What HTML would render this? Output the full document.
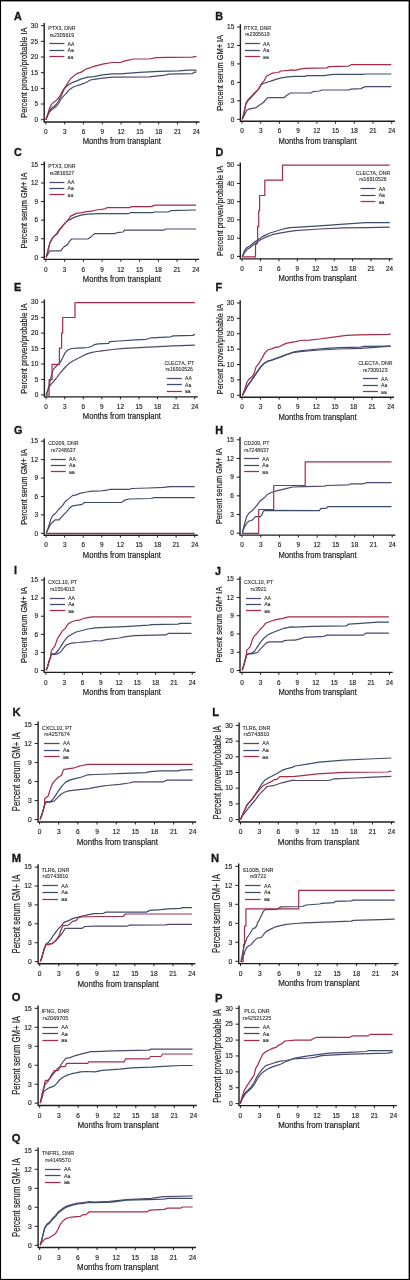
<!DOCTYPE html>
<html><head><meta charset="utf-8"><style>
html,body{margin:0;padding:0;background:#fff;}
body{width:410px;height:1280px;overflow:hidden;position:relative;}
svg{display:block;will-change:transform;}
#c{position:absolute;left:0;top:0;width:410px;height:1280px;filter:blur(0.3px);}
#b{position:absolute;left:0;top:0;width:410px;height:1280px;}
text{font-family:"Liberation Sans", sans-serif;fill:#1c1c1c;}
.tl{stroke:#1c1c1c;stroke-width:0.15px;}
.lt{stroke:#000;stroke-width:0.3px;}
.lb{stroke:#1c1c1c;stroke-width:0.2px;}
.lg{stroke:#1c1c1c;stroke-width:0.08px;}
.ax{stroke:#1e1e1e;stroke-width:1.4;fill:none;}
.tk{stroke:#1e1e1e;stroke-width:1.0;fill:none;}
.cv{fill:none;stroke-width:1.2;stroke-linejoin:round;}
</style></head><body>
<div id="c"><svg width="410" height="1280" viewBox="0 0 410 1280">
<text x="13.9" y="20" font-size="10.8" font-weight="bold" class="lt">A</text>
<path d="M44.2 22.9V122H199.5" class="ax"/>
<text x="38.1" y="121.9" font-size="6.5" text-anchor="end" class="tl">0</text>
<text x="38.1" y="106.23" font-size="6.5" text-anchor="end" class="tl">5</text>
<text x="38.1" y="90.57" font-size="6.5" text-anchor="end" class="tl">10</text>
<text x="38.1" y="74.9" font-size="6.5" text-anchor="end" class="tl">15</text>
<text x="38.1" y="59.23" font-size="6.5" text-anchor="end" class="tl">20</text>
<text x="38.1" y="43.57" font-size="6.5" text-anchor="end" class="tl">25</text>
<text x="38.1" y="27.9" font-size="6.5" text-anchor="end" class="tl">30</text>
<text x="45.9" y="134.1" font-size="6.4" text-anchor="middle" class="tl">0</text>
<text x="64.7" y="134.1" font-size="6.4" text-anchor="middle" class="tl">3</text>
<text x="83.5" y="134.1" font-size="6.4" text-anchor="middle" class="tl">6</text>
<text x="102.3" y="134.1" font-size="6.4" text-anchor="middle" class="tl">9</text>
<text x="121.1" y="134.1" font-size="6.4" text-anchor="middle" class="tl">12</text>
<text x="139.9" y="134.1" font-size="6.4" text-anchor="middle" class="tl">15</text>
<text x="158.7" y="134.1" font-size="6.4" text-anchor="middle" class="tl">18</text>
<text x="177.5" y="134.1" font-size="6.4" text-anchor="middle" class="tl">21</text>
<text x="196.3" y="134.1" font-size="6.4" text-anchor="middle" class="tl">24</text>
<path d="M40.9 119.7H44.2M40.9 104.03H44.2M40.9 88.37H44.2M40.9 72.7H44.2M40.9 57.03H44.2M40.9 41.37H44.2M40.9 25.7H44.2M45.9 122V124.4M64.7 122V124.4M83.5 122V124.4M102.3 122V124.4M121.1 122V124.4M139.9 122V124.4M158.7 122V124.4M177.5 122V124.4M196.3 122V124.4" class="tk"/>
<text x="160.9" y="144.4" font-size="9.2" text-anchor="end" textLength="78.2" lengthAdjust="spacingAndGlyphs" class="lb">Months from transplant</text>
<text transform="translate(26.65 72.7) rotate(-90)" font-size="9.9" text-anchor="middle" textLength="90.2" lengthAdjust="spacingAndGlyphs" class="lb">Percent proven/probable IA</text>
<text x="61.9" y="30.25" font-size="5.2" text-anchor="middle" class="lg">PTX3, DNR</text>
<text x="61.9" y="36.65" font-size="5.2" text-anchor="middle" class="lg">rs2305619</text>
<path d="M49.4 43.5H64.4" stroke="#53466e" stroke-width="1.25"/>
<text x="67.6" y="45.8" font-size="5.1" class="lg">AA</text>
<path d="M49.4 50.5H64.4" stroke="#3a4e6c" stroke-width="1.25"/>
<text x="67.6" y="52.25" font-size="5.1" class="lg">Aa</text>
<path d="M49.4 56.5H64.4" stroke="#a82a48" stroke-width="1.25"/>
<text x="67.6" y="58.7" font-size="5.1" class="lg">aa</text>
<path d="M45.9 119.8 L47.7 115.5 L49.5 112 L51.3 110 L53.8 108.3 L56.2 106.5 L58.6 103.5 L60.5 100 L62.3 97.4 L66 93.7 L69.6 89.4 L73.3 87 L76.9 85.8 L80.6 84.6 L84.2 83.3 L87.9 81.5 L90.3 80 L94 79.3 L102.5 78.1 L112.3 77.2 L120 77.2 L149.3 76.8 L164.9 75.2 L168.8 74.2 L192.2 73.7 L194.1 72.3 L196.5 71.9" stroke="#53466e" class="cv"/>
<path d="M45.9 119.8 L47.7 115 L49.5 110.8 L51.3 108.3 L53.8 106.5 L56.2 104.5 L58.6 101 L61.1 96 L63.5 90.5 L64.7 88.2 L67.2 85.8 L69.6 84 L73.3 82.1 L76.9 80.9 L80.6 79.1 L84.2 78.2 L87.9 77.2 L94 76.6 L102.5 74.8 L112.3 73.9 L120 73.9 L139.5 72.3 L159 71.3 L178.5 70.9 L188.3 70.1 L196.5 70.1" stroke="#3a4e6c" class="cv"/>
<path d="M45.9 119.8 L47.7 114.4 L49.5 108.3 L51.3 104.7 L53.8 102.2 L56.2 100.4 L58.6 98 L61.1 93.7 L63.5 89.4 L66 85.8 L68.4 82.1 L70.8 78.5 L74.5 75.4 L76.9 73.6 L80.6 72.4 L83 71.1 L85.5 69.3 L89.1 68.1 L94 66.3 L102.5 64.1 L112.3 62.5 L120 62.5 L125.9 60.6 L133.7 59 L149.3 59 L156.1 57.7 L168.8 57.3 L192.2 57.1 L196.5 56.3" stroke="#a82a48" class="cv"/>
<text x="215.2" y="20" font-size="10.8" font-weight="bold" class="lt">B</text>
<path d="M240.4 24.2V121.3H394.9" class="ax"/>
<text x="234.3" y="121.5" font-size="6.5" text-anchor="end" class="tl">0</text>
<text x="234.3" y="103.04" font-size="6.5" text-anchor="end" class="tl">3</text>
<text x="234.3" y="84.58" font-size="6.5" text-anchor="end" class="tl">6</text>
<text x="234.3" y="66.12" font-size="6.5" text-anchor="end" class="tl">9</text>
<text x="234.3" y="47.66" font-size="6.5" text-anchor="end" class="tl">12</text>
<text x="234.3" y="29.2" font-size="6.5" text-anchor="end" class="tl">15</text>
<text x="242" y="133.4" font-size="6.4" text-anchor="middle" class="tl">0</text>
<text x="260.71" y="133.4" font-size="6.4" text-anchor="middle" class="tl">3</text>
<text x="279.43" y="133.4" font-size="6.4" text-anchor="middle" class="tl">6</text>
<text x="298.14" y="133.4" font-size="6.4" text-anchor="middle" class="tl">9</text>
<text x="316.85" y="133.4" font-size="6.4" text-anchor="middle" class="tl">12</text>
<text x="335.56" y="133.4" font-size="6.4" text-anchor="middle" class="tl">15</text>
<text x="354.27" y="133.4" font-size="6.4" text-anchor="middle" class="tl">18</text>
<text x="372.99" y="133.4" font-size="6.4" text-anchor="middle" class="tl">21</text>
<text x="391.7" y="133.4" font-size="6.4" text-anchor="middle" class="tl">24</text>
<path d="M237.1 119.3H240.4M237.1 100.84H240.4M237.1 82.38H240.4M237.1 63.92H240.4M237.1 45.46H240.4M237.1 27H240.4M242 121.3V123.7M260.71 121.3V123.7M279.43 121.3V123.7M298.14 121.3V123.7M316.85 121.3V123.7M335.56 121.3V123.7M354.27 121.3V123.7M372.99 121.3V123.7M391.7 121.3V123.7" class="tk"/>
<text x="356.6" y="143.7" font-size="9.2" text-anchor="end" textLength="78.2" lengthAdjust="spacingAndGlyphs" class="lb">Months from transplant</text>
<text transform="translate(222.85 72.85) rotate(-90)" font-size="9.9" text-anchor="middle" textLength="75.8" lengthAdjust="spacingAndGlyphs" class="lb">Percent serum GM+ IA</text>
<text x="257.4" y="30.05" font-size="5.2" text-anchor="middle" class="lg">PTX3, DNR</text>
<text x="257.4" y="36.45" font-size="5.2" text-anchor="middle" class="lg">rs2305619</text>
<path d="M244.9 43.5H259.9" stroke="#53466e" stroke-width="1.25"/>
<text x="263.1" y="45.6" font-size="5.1" class="lg">AA</text>
<path d="M244.9 50.5H259.9" stroke="#3a4e6c" stroke-width="1.25"/>
<text x="263.1" y="52.05" font-size="5.1" class="lg">Aa</text>
<path d="M244.9 56.5H259.9" stroke="#a82a48" stroke-width="1.25"/>
<text x="263.1" y="58.5" font-size="5.1" class="lg">aa</text>
<path d="M242.2 119.3 L243.7 116.4 L246.6 110.6 L248.8 109.1 L252.4 108.4 L256.1 107.6 L259 105.4 L263.4 102.5 L267.1 98.1 L269.3 97.7 L283.9 97.7 L286.9 95.2 L290.5 93 L310.9 93 L313.3 91.5 L319.4 91 L321.8 90 L348.7 89.8 L351.1 89.1 L360.9 88.6 L363.3 87.4 L365.7 86.6 L391.3 86.6" stroke="#53466e" class="cv"/>
<path d="M242.2 119.3 L243.7 115 L245.9 104.5 L248.1 100.5 L251 97.5 L254.6 93.5 L258.3 89.6 L261.2 84.6 L263.4 83.5 L267.8 82 L272.2 80.6 L276.6 79.1 L282.5 77.6 L288.3 76.9 L295 76.4 L304.8 76.4 L307.2 75.7 L324.3 75.7 L329.1 74.9 L334 74.4 L363.3 74.4 L365.7 74 L391.3 74" stroke="#3a4e6c" class="cv"/>
<path d="M242.2 119.3 L243.7 113.5 L245.9 103.2 L248.1 99.6 L251 96.7 L254.6 93 L258.3 89.3 L261.2 84.2 L264.2 80.6 L266.4 76.2 L269.3 74.7 L272.2 73.2 L278.1 72.5 L281 71 L288.3 70.3 L291.2 69.9 L295 70.3 L299.9 69.1 L304.8 68.3 L326.7 67.9 L329.1 66.6 L348.7 66.1 L351.1 64.7 L391.3 64.7" stroke="#a82a48" class="cv"/>
<text x="13.9" y="155.5" font-size="10.8" font-weight="bold" class="lt">C</text>
<path d="M44.3 161.6V259.4H199" class="ax"/>
<text x="38.2" y="259.5" font-size="6.5" text-anchor="end" class="tl">0</text>
<text x="38.2" y="240.92" font-size="6.5" text-anchor="end" class="tl">3</text>
<text x="38.2" y="222.34" font-size="6.5" text-anchor="end" class="tl">6</text>
<text x="38.2" y="203.76" font-size="6.5" text-anchor="end" class="tl">9</text>
<text x="38.2" y="185.18" font-size="6.5" text-anchor="end" class="tl">12</text>
<text x="38.2" y="166.6" font-size="6.5" text-anchor="end" class="tl">15</text>
<text x="45.9" y="271.5" font-size="6.4" text-anchor="middle" class="tl">0</text>
<text x="64.64" y="271.5" font-size="6.4" text-anchor="middle" class="tl">3</text>
<text x="83.38" y="271.5" font-size="6.4" text-anchor="middle" class="tl">6</text>
<text x="102.11" y="271.5" font-size="6.4" text-anchor="middle" class="tl">9</text>
<text x="120.85" y="271.5" font-size="6.4" text-anchor="middle" class="tl">12</text>
<text x="139.59" y="271.5" font-size="6.4" text-anchor="middle" class="tl">15</text>
<text x="158.33" y="271.5" font-size="6.4" text-anchor="middle" class="tl">18</text>
<text x="177.06" y="271.5" font-size="6.4" text-anchor="middle" class="tl">21</text>
<text x="195.8" y="271.5" font-size="6.4" text-anchor="middle" class="tl">24</text>
<path d="M41 257.3H44.3M41 238.72H44.3M41 220.14H44.3M41 201.56H44.3M41 182.98H44.3M41 164.4H44.3M45.9 259.4V261.8M64.64 259.4V261.8M83.38 259.4V261.8M102.11 259.4V261.8M120.85 259.4V261.8M139.59 259.4V261.8M158.33 259.4V261.8M177.06 259.4V261.8M195.8 259.4V261.8" class="tk"/>
<text x="161" y="281.8" font-size="9.2" text-anchor="end" textLength="78.2" lengthAdjust="spacingAndGlyphs" class="lb">Months from transplant</text>
<text transform="translate(26.75 210.55) rotate(-90)" font-size="9.9" text-anchor="middle" textLength="75.8" lengthAdjust="spacingAndGlyphs" class="lb">Percent serum GM+ IA</text>
<text x="61.9" y="168.35" font-size="5.2" text-anchor="middle" class="lg">PTX3, DNR</text>
<text x="61.9" y="174.75" font-size="5.2" text-anchor="middle" class="lg">rs3816527</text>
<path d="M49.4 182.5H64.4" stroke="#53466e" stroke-width="1.25"/>
<text x="67.6" y="183.9" font-size="5.1" class="lg">AA</text>
<path d="M49.4 188.5H64.4" stroke="#3a4e6c" stroke-width="1.25"/>
<text x="67.6" y="190.35" font-size="5.1" class="lg">Aa</text>
<path d="M49.4 194.5H64.4" stroke="#a82a48" stroke-width="1.25"/>
<text x="67.6" y="196.8" font-size="5.1" class="lg">aa</text>
<path d="M46.2 257.3 L47.7 254.4 L49.9 250.8 L60.8 250.8 L62.3 248.6 L64.5 246.4 L67.4 244.9 L69.6 241.2 L71.8 239 L87.9 239 L90.9 236.9 L94.5 233.6 L114.6 233.6 L117.1 232.7 L123.2 232 L124.4 230.2 L163.4 230.2 L165.9 229 L196 229" stroke="#53466e" class="cv"/>
<path d="M46.2 257.3 L47.7 251.5 L49.9 243.2 L52.1 238.8 L54.2 236.1 L57.2 232.9 L59.4 229.3 L62.3 226.1 L65.2 222.9 L68.2 220.5 L71.8 218.6 L74.7 217.1 L77.7 216.1 L82.1 214.9 L87.9 214.2 L98.2 213.7 L100 213.7 L128 213.7 L130.5 212.7 L152.4 212.7 L154.9 212 L168.3 212 L170.7 210.7 L196 210" stroke="#3a4e6c" class="cv"/>
<path d="M46.2 257.3 L47.7 251.5 L49.9 242.7 L52.1 238.3 L54.2 236.1 L57.2 233.9 L59.4 230.3 L62.3 226.6 L65.2 222.9 L68.2 220 L70.4 216.4 L73.3 214.9 L76.2 213.4 L82.1 212.7 L86.5 211.7 L92.3 211.2 L93.8 210.5 L100 209.5 L104.9 208.8 L107.3 207.6 L129.3 207.6 L131.7 206.6 L151.2 206.6 L154.9 205.1 L196 205.1" stroke="#a82a48" class="cv"/>
<text x="215.5" y="155.5" font-size="10.8" font-weight="bold" class="lt">D</text>
<path d="M240.3 162.4V258.9H392.7" class="ax"/>
<text x="234.2" y="258.6" font-size="6.5" text-anchor="end" class="tl">0</text>
<text x="234.2" y="240.36" font-size="6.5" text-anchor="end" class="tl">10</text>
<text x="234.2" y="222.12" font-size="6.5" text-anchor="end" class="tl">20</text>
<text x="234.2" y="203.88" font-size="6.5" text-anchor="end" class="tl">30</text>
<text x="234.2" y="185.64" font-size="6.5" text-anchor="end" class="tl">40</text>
<text x="234.2" y="167.4" font-size="6.5" text-anchor="end" class="tl">50</text>
<text x="242" y="271" font-size="6.4" text-anchor="middle" class="tl">0</text>
<text x="260.44" y="271" font-size="6.4" text-anchor="middle" class="tl">3</text>
<text x="278.88" y="271" font-size="6.4" text-anchor="middle" class="tl">6</text>
<text x="297.31" y="271" font-size="6.4" text-anchor="middle" class="tl">9</text>
<text x="315.75" y="271" font-size="6.4" text-anchor="middle" class="tl">12</text>
<text x="334.19" y="271" font-size="6.4" text-anchor="middle" class="tl">15</text>
<text x="352.62" y="271" font-size="6.4" text-anchor="middle" class="tl">18</text>
<text x="371.06" y="271" font-size="6.4" text-anchor="middle" class="tl">21</text>
<text x="389.5" y="271" font-size="6.4" text-anchor="middle" class="tl">24</text>
<path d="M237 256.4H240.3M237 238.16H240.3M237 219.92H240.3M237 201.68H240.3M237 183.44H240.3M237 165.2H240.3M242 258.9V261.3M260.44 258.9V261.3M278.88 258.9V261.3M297.31 258.9V261.3M315.75 258.9V261.3M334.19 258.9V261.3M352.62 258.9V261.3M371.06 258.9V261.3M389.5 258.9V261.3" class="tk"/>
<text x="356.6" y="281.3" font-size="9.2" text-anchor="end" textLength="78.2" lengthAdjust="spacingAndGlyphs" class="lb">Months from transplant</text>
<text transform="translate(222.75 210.8) rotate(-90)" font-size="9.9" text-anchor="middle" textLength="90.2" lengthAdjust="spacingAndGlyphs" class="lb">Percent proven/probable IA</text>
<text x="373" y="175.05" font-size="5.2" text-anchor="middle" class="lg">CLEC7A, DNR</text>
<text x="373" y="181.45" font-size="5.2" text-anchor="middle" class="lg">rs16910526</text>
<path d="M360.5 188.5H375.5" stroke="#53466e" stroke-width="1.25"/>
<text x="378.7" y="190.6" font-size="5.1" class="lg">AA</text>
<path d="M360.5 195.5H375.5" stroke="#3a4e6c" stroke-width="1.25"/>
<text x="378.7" y="197.05" font-size="5.1" class="lg">Aa</text>
<path d="M360.5 201.5H375.5" stroke="#a82a48" stroke-width="1.25"/>
<text x="378.7" y="203.5" font-size="5.1" class="lg">aa</text>
<path d="M242.2 256.9 L244.4 253 L247.3 249.3 L251.7 246.4 L256.1 242.7 L260.5 239.8 L266.4 236.9 L272.2 234.7 L279.5 233.2 L288.3 231.7 L295 230.7 L319.4 229 L343.8 227.8 L368.2 227.6 L389.7 227.1" stroke="#53466e" class="cv"/>
<path d="M242.2 256.9 L244.4 250.8 L246.6 247.8 L250.2 245.7 L254.6 242 L259 239.1 L263.4 236.1 L269.3 233.2 L276.6 231 L283.9 228.8 L289.8 227.6 L295 227.3 L319.4 225.9 L343.8 224.1 L365.7 222.7 L389.7 222.7" stroke="#3a4e6c" class="cv"/>
<path d="M242.2 256.9 L255.5 256.9 L255.5 245 L257.6 243 L257.6 226.6 L258.7 226.6 L258.7 210.8 L259.6 210.8 L259.6 195.5 L264.8 195.5 L264.8 180.2 L282.5 180.2 L282.5 165.1 L389.7 165.1" stroke="#a82a48" class="cv"/>
<text x="13.9" y="290.5" font-size="10.8" font-weight="bold" class="lt">E</text>
<path d="M44.4 299.4V396.9H197.9" class="ax"/>
<text x="38.3" y="397.1" font-size="6.5" text-anchor="end" class="tl">0</text>
<text x="38.3" y="381.65" font-size="6.5" text-anchor="end" class="tl">5</text>
<text x="38.3" y="366.2" font-size="6.5" text-anchor="end" class="tl">10</text>
<text x="38.3" y="350.75" font-size="6.5" text-anchor="end" class="tl">15</text>
<text x="38.3" y="335.3" font-size="6.5" text-anchor="end" class="tl">20</text>
<text x="38.3" y="319.85" font-size="6.5" text-anchor="end" class="tl">25</text>
<text x="38.3" y="304.4" font-size="6.5" text-anchor="end" class="tl">30</text>
<text x="46.1" y="409" font-size="6.4" text-anchor="middle" class="tl">0</text>
<text x="64.67" y="409" font-size="6.4" text-anchor="middle" class="tl">3</text>
<text x="83.25" y="409" font-size="6.4" text-anchor="middle" class="tl">6</text>
<text x="101.82" y="409" font-size="6.4" text-anchor="middle" class="tl">9</text>
<text x="120.4" y="409" font-size="6.4" text-anchor="middle" class="tl">12</text>
<text x="138.97" y="409" font-size="6.4" text-anchor="middle" class="tl">15</text>
<text x="157.55" y="409" font-size="6.4" text-anchor="middle" class="tl">18</text>
<text x="176.12" y="409" font-size="6.4" text-anchor="middle" class="tl">21</text>
<text x="194.7" y="409" font-size="6.4" text-anchor="middle" class="tl">24</text>
<path d="M41.1 394.9H44.4M41.1 379.45H44.4M41.1 364H44.4M41.1 348.55H44.4M41.1 333.1H44.4M41.1 317.65H44.4M41.1 302.2H44.4M46.1 396.9V399.3M64.67 396.9V399.3M83.25 396.9V399.3M101.82 396.9V399.3M120.4 396.9V399.3M138.97 396.9V399.3M157.55 396.9V399.3M176.12 396.9V399.3M194.7 396.9V399.3" class="tk"/>
<text x="161" y="419.3" font-size="9.2" text-anchor="end" textLength="78.2" lengthAdjust="spacingAndGlyphs" class="lb">Months from transplant</text>
<text transform="translate(26.85 348.55) rotate(-90)" font-size="9.9" text-anchor="middle" textLength="90.2" lengthAdjust="spacingAndGlyphs" class="lb">Percent proven/probable IA</text>
<text x="179.3" y="364.85" font-size="5.2" text-anchor="middle" class="lg">CLEC7A, PT</text>
<text x="179.3" y="371.25" font-size="5.2" text-anchor="middle" class="lg">rs16910526</text>
<path d="M166.8 378.5H181.8" stroke="#53466e" stroke-width="1.25"/>
<text x="185" y="380.4" font-size="5.1" class="lg">AA</text>
<path d="M166.8 384.5H181.8" stroke="#3a4e6c" stroke-width="1.25"/>
<text x="185" y="386.85" font-size="5.1" class="lg">Aa</text>
<path d="M166.8 391.5H181.8" stroke="#a82a48" stroke-width="1.25"/>
<text x="185" y="393.3" font-size="5.1" class="lg">aa</text>
<path d="M46.2 395.1 L48.4 387.8 L51.3 384.1 L55.7 379 L60.1 373.1 L64.5 368 L68.9 363.6 L73.3 360.7 L77.7 358.5 L82.1 356.3 L86.5 354.1 L90.9 352.6 L96.7 351.5 L100 351.2 L112.2 349.5 L124.4 348.3 L148.8 347.1 L173.2 345.9 L194.9 345.1" stroke="#53466e" class="cv"/>
<path d="M46.2 395.1 L48.4 389.2 L50.6 379 L52.8 370.2 L55 367.3 L58.6 364.3 L60.8 361.4 L63 357 L65.2 352.6 L68.2 349.7 L71.8 348.5 L77.7 348.2 L83.5 347.8 L87.9 347.5 L92.3 346 L94.5 344.6 L98.2 343.9 L108.5 343.4 L109.8 341.7 L119.5 341 L135.4 339.8 L146.3 339.3 L151.2 337.8 L170.7 336.8 L173.2 335.9 L192.7 335.4 L194.9 334.4" stroke="#3a4e6c" class="cv"/>
<path d="M46.2 395.1 L49.1 395.1 L49.1 379.7 L52.1 379.7 L52.1 364.3 L59.4 364.3 L59.4 348.2 L61.6 348.2 L61.6 332.9 L62.7 332.9 L62.7 317.5 L75 317.5 L75 302.6 L194.9 302.6" stroke="#a82a48" class="cv"/>
<text x="215.5" y="290.5" font-size="10.8" font-weight="bold" class="lt">F</text>
<path d="M240.2 300.2V397.2H393.9" class="ax"/>
<text x="234.1" y="397.5" font-size="6.5" text-anchor="end" class="tl">0</text>
<text x="234.1" y="382.12" font-size="6.5" text-anchor="end" class="tl">5</text>
<text x="234.1" y="366.73" font-size="6.5" text-anchor="end" class="tl">10</text>
<text x="234.1" y="351.35" font-size="6.5" text-anchor="end" class="tl">15</text>
<text x="234.1" y="335.97" font-size="6.5" text-anchor="end" class="tl">20</text>
<text x="234.1" y="320.58" font-size="6.5" text-anchor="end" class="tl">25</text>
<text x="234.1" y="305.2" font-size="6.5" text-anchor="end" class="tl">30</text>
<text x="242" y="409.3" font-size="6.4" text-anchor="middle" class="tl">0</text>
<text x="260.59" y="409.3" font-size="6.4" text-anchor="middle" class="tl">3</text>
<text x="279.18" y="409.3" font-size="6.4" text-anchor="middle" class="tl">6</text>
<text x="297.76" y="409.3" font-size="6.4" text-anchor="middle" class="tl">9</text>
<text x="316.35" y="409.3" font-size="6.4" text-anchor="middle" class="tl">12</text>
<text x="334.94" y="409.3" font-size="6.4" text-anchor="middle" class="tl">15</text>
<text x="353.52" y="409.3" font-size="6.4" text-anchor="middle" class="tl">18</text>
<text x="372.11" y="409.3" font-size="6.4" text-anchor="middle" class="tl">21</text>
<text x="390.7" y="409.3" font-size="6.4" text-anchor="middle" class="tl">24</text>
<path d="M236.9 395.3H240.2M236.9 379.92H240.2M236.9 364.53H240.2M236.9 349.15H240.2M236.9 333.77H240.2M236.9 318.38H240.2M236.9 303H240.2M242 397.2V399.6M260.59 397.2V399.6M279.18 397.2V399.6M297.76 397.2V399.6M316.35 397.2V399.6M334.94 397.2V399.6M353.52 397.2V399.6M372.11 397.2V399.6M390.7 397.2V399.6" class="tk"/>
<text x="356.6" y="419.6" font-size="9.2" text-anchor="end" textLength="78.2" lengthAdjust="spacingAndGlyphs" class="lb">Months from transplant</text>
<text transform="translate(222.65 349.15) rotate(-90)" font-size="9.9" text-anchor="middle" textLength="90.2" lengthAdjust="spacingAndGlyphs" class="lb">Percent proven/probable IA</text>
<text x="375.4" y="365.15" font-size="5.2" text-anchor="middle" class="lg">CLEC7A, DNR</text>
<text x="375.4" y="371.55" font-size="5.2" text-anchor="middle" class="lg">rs7309123</text>
<path d="M362.9 378.5H377.9" stroke="#53466e" stroke-width="1.25"/>
<text x="381.1" y="380.7" font-size="5.1" class="lg">AA</text>
<path d="M362.9 385.5H377.9" stroke="#3a4e6c" stroke-width="1.25"/>
<text x="381.1" y="387.15" font-size="5.1" class="lg">Aa</text>
<path d="M362.9 391.5H377.9" stroke="#a82a48" stroke-width="1.25"/>
<text x="381.1" y="393.6" font-size="5.1" class="lg">aa</text>
<path d="M242.2 395.4 L244.4 391.9 L247.3 386.3 L251 381.2 L254.6 376 L257.6 371.6 L260.5 367.3 L264.2 363.6 L267.8 361.4 L272.2 360.2 L276.6 358.5 L281 357 L285.4 355.2 L289.8 353.8 L294.2 352.3 L300 351.6 L319.4 350 L338.9 349 L360.9 348.3 L377.9 347.1 L390.7 346.1" stroke="#53466e" class="cv"/>
<path d="M242.2 395.4 L244.4 391.7 L247.3 385.9 L251 380.8 L254.6 375.6 L257.6 371.2 L260.5 366.9 L264.2 363.2 L267.8 361 L272.2 359.8 L276.6 358.1 L281 356.6 L285.4 354.8 L289.8 353.4 L294.2 351.9 L300 350.8 L307.2 350 L326.7 348.3 L338.9 347.6 L360.9 347.1 L363.3 346.3 L390.7 346.1" stroke="#3a4e6c" class="cv"/>
<path d="M242.2 395.4 L244.4 390.3 L246.6 383 L248.8 379.3 L251.7 377.1 L253.9 374.2 L256.1 366.9 L259 363.2 L262 358.1 L264.9 352.9 L267.8 350 L272.2 348.6 L275.9 347.1 L278.8 347.1 L282.5 344.9 L286.9 343.1 L291.2 342.3 L295.6 341.7 L300 340.5 L309.6 340.2 L319.4 339 L331.6 337.3 L346.2 335.4 L358.4 334.9 L387.7 334.4 L390.7 333.9" stroke="#a82a48" class="cv"/>
<text x="13.9" y="433.5" font-size="10.8" font-weight="bold" class="lt">G</text>
<path d="M44.2 438.4V535.2H197.9" class="ax"/>
<text x="38.1" y="535.5" font-size="6.5" text-anchor="end" class="tl">0</text>
<text x="38.1" y="517.08" font-size="6.5" text-anchor="end" class="tl">3</text>
<text x="38.1" y="498.66" font-size="6.5" text-anchor="end" class="tl">6</text>
<text x="38.1" y="480.24" font-size="6.5" text-anchor="end" class="tl">9</text>
<text x="38.1" y="461.82" font-size="6.5" text-anchor="end" class="tl">12</text>
<text x="38.1" y="443.4" font-size="6.5" text-anchor="end" class="tl">15</text>
<text x="46.1" y="547.3" font-size="6.4" text-anchor="middle" class="tl">0</text>
<text x="64.67" y="547.3" font-size="6.4" text-anchor="middle" class="tl">3</text>
<text x="83.25" y="547.3" font-size="6.4" text-anchor="middle" class="tl">6</text>
<text x="101.82" y="547.3" font-size="6.4" text-anchor="middle" class="tl">9</text>
<text x="120.4" y="547.3" font-size="6.4" text-anchor="middle" class="tl">12</text>
<text x="138.97" y="547.3" font-size="6.4" text-anchor="middle" class="tl">15</text>
<text x="157.55" y="547.3" font-size="6.4" text-anchor="middle" class="tl">18</text>
<text x="176.12" y="547.3" font-size="6.4" text-anchor="middle" class="tl">21</text>
<text x="194.7" y="547.3" font-size="6.4" text-anchor="middle" class="tl">24</text>
<path d="M40.9 533.3H44.2M40.9 514.88H44.2M40.9 496.46H44.2M40.9 478.04H44.2M40.9 459.62H44.2M40.9 441.2H44.2M46.1 535.2V537.6M64.67 535.2V537.6M83.25 535.2V537.6M101.82 535.2V537.6M120.4 535.2V537.6M138.97 535.2V537.6M157.55 535.2V537.6M176.12 535.2V537.6M194.7 535.2V537.6" class="tk"/>
<text x="161" y="557.6" font-size="9.2" text-anchor="end" textLength="78.2" lengthAdjust="spacingAndGlyphs" class="lb">Months from transplant</text>
<text transform="translate(26.65 486.95) rotate(-90)" font-size="9.9" text-anchor="middle" textLength="75.8" lengthAdjust="spacingAndGlyphs" class="lb">Percent serum GM+ IA</text>
<text x="63.3" y="445.35" font-size="5.2" text-anchor="middle" class="lg">CD209, DNR</text>
<text x="63.3" y="451.75" font-size="5.2" text-anchor="middle" class="lg">rs7248637</text>
<path d="M50.8 459.5H65.8" stroke="#53466e" stroke-width="1.25"/>
<text x="69" y="460.9" font-size="5.1" class="lg">AA</text>
<path d="M50.8 465.5H65.8" stroke="#3a4e6c" stroke-width="1.25"/>
<text x="69" y="467.35" font-size="5.1" class="lg">Aa</text>
<path d="M50.8 471.5H65.8" stroke="#a82a48" stroke-width="1.25"/>
<text x="69" y="473.8" font-size="5.1" class="lg">aa</text>
<path d="M46.2 533.3 L48.4 527.1 L50.6 519.8 L52.8 515.4 L55.7 513.2 L58.6 509.5 L62.3 505.9 L65.2 501.5 L68.9 498.6 L72.5 495.6 L76.2 494.9 L79.9 493.4 L86.5 492 L92.3 491.2 L100 491 L107.3 490.2 L109.8 489.3 L129.3 489.3 L131.7 488.5 L148.8 488 L163.4 487.3 L170.7 486.6 L194.7 486.6" stroke="#53466e" class="cv"/>
<path d="M46.2 533.3 L48.4 528.6 L50.6 524.2 L52.8 522 L55 519.8 L59.4 519.8 L60.8 517.6 L63.8 514.7 L66.7 511.7 L69.6 508.1 L72.5 505.9 L77.7 505.1 L82.1 504.4 L84.3 502.5 L122 502.4 L124.4 500.2 L129.3 499 L151.2 498.5 L153.7 497.6 L194.7 497.6" stroke="#3a4e6c" class="cv"/>
<path d="M46.2 533.4 L194.7 533.4" stroke="#a82a48" class="cv"/>
<text x="215.2" y="433.5" font-size="10.8" font-weight="bold" class="lt">H</text>
<path d="M240 437V535.1H395.4" class="ax"/>
<text x="233.9" y="535.4" font-size="6.5" text-anchor="end" class="tl">0</text>
<text x="233.9" y="516.72" font-size="6.5" text-anchor="end" class="tl">3</text>
<text x="233.9" y="498.04" font-size="6.5" text-anchor="end" class="tl">6</text>
<text x="233.9" y="479.36" font-size="6.5" text-anchor="end" class="tl">9</text>
<text x="233.9" y="460.68" font-size="6.5" text-anchor="end" class="tl">12</text>
<text x="233.9" y="442" font-size="6.5" text-anchor="end" class="tl">15</text>
<text x="242" y="547.2" font-size="6.4" text-anchor="middle" class="tl">0</text>
<text x="260.77" y="547.2" font-size="6.4" text-anchor="middle" class="tl">3</text>
<text x="279.55" y="547.2" font-size="6.4" text-anchor="middle" class="tl">6</text>
<text x="298.32" y="547.2" font-size="6.4" text-anchor="middle" class="tl">9</text>
<text x="317.1" y="547.2" font-size="6.4" text-anchor="middle" class="tl">12</text>
<text x="335.88" y="547.2" font-size="6.4" text-anchor="middle" class="tl">15</text>
<text x="354.65" y="547.2" font-size="6.4" text-anchor="middle" class="tl">18</text>
<text x="373.42" y="547.2" font-size="6.4" text-anchor="middle" class="tl">21</text>
<text x="392.2" y="547.2" font-size="6.4" text-anchor="middle" class="tl">24</text>
<path d="M236.7 533.2H240M236.7 514.52H240M236.7 495.84H240M236.7 477.16H240M236.7 458.48H240M236.7 439.8H240M242 535.1V537.5M260.77 535.1V537.5M279.55 535.1V537.5M298.32 535.1V537.5M317.1 535.1V537.5M335.88 535.1V537.5M354.65 535.1V537.5M373.42 535.1V537.5M392.2 535.1V537.5" class="tk"/>
<text x="356.6" y="557.5" font-size="9.2" text-anchor="end" textLength="78.2" lengthAdjust="spacingAndGlyphs" class="lb">Months from transplant</text>
<text transform="translate(222.45 486.2) rotate(-90)" font-size="9.9" text-anchor="middle" textLength="75.8" lengthAdjust="spacingAndGlyphs" class="lb">Percent serum GM+ IA</text>
<text x="256.6" y="445.15" font-size="5.2" text-anchor="middle" class="lg">CD209, PT</text>
<text x="256.6" y="451.55" font-size="5.2" text-anchor="middle" class="lg">rs7248637</text>
<path d="M244.1 458.5H259.1" stroke="#53466e" stroke-width="1.25"/>
<text x="262.3" y="460.7" font-size="5.1" class="lg">AA</text>
<path d="M244.1 465.5H259.1" stroke="#3a4e6c" stroke-width="1.25"/>
<text x="262.3" y="467.15" font-size="5.1" class="lg">Aa</text>
<path d="M244.1 471.5H259.1" stroke="#a82a48" stroke-width="1.25"/>
<text x="262.3" y="473.6" font-size="5.1" class="lg">aa</text>
<path d="M242.2 533.3 L244.4 524.2 L246.6 516.9 L248.8 513.2 L251.7 511 L254.6 508.1 L257.6 504.4 L260.5 500.7 L264.2 497.8 L267.8 494.2 L270.7 492.7 L275.1 491.2 L281 489.8 L286.9 488.3 L292.7 487 L304.8 486.7 L324.3 486.2 L326.7 485.5 L348.7 484.8 L351.1 483.8 L363.3 483.8 L367 482.6 L391.5 482.6" stroke="#53466e" class="cv"/>
<path d="M242.2 533.3 L244.4 527.1 L246.6 523.4 L248.8 521.2 L251.7 520.5 L253.9 518.3 L255.4 516.6 L260.5 516.6 L262 514.7 L263.4 511 L264.9 510.4 L319.4 510.6 L320.6 508.7 L326.7 508.2 L327.9 506.7 L391.5 506.7" stroke="#3a4e6c" class="cv"/>
<path d="M242.2 533.3 L258.7 533.3 L258.7 509.5 L273.7 509.5 L273.7 485.5 L305.2 485.5 L305.2 461.8 L391.5 461.8" stroke="#a82a48" class="cv"/>
<text x="13.9" y="574.3" font-size="10.8" font-weight="bold" class="lt">I</text>
<path d="M44.2 577.2V672.4H195.4" class="ax"/>
<text x="38.1" y="672.8" font-size="6.5" text-anchor="end" class="tl">0</text>
<text x="38.1" y="654.68" font-size="6.5" text-anchor="end" class="tl">3</text>
<text x="38.1" y="636.56" font-size="6.5" text-anchor="end" class="tl">6</text>
<text x="38.1" y="618.44" font-size="6.5" text-anchor="end" class="tl">9</text>
<text x="38.1" y="600.32" font-size="6.5" text-anchor="end" class="tl">12</text>
<text x="38.1" y="582.2" font-size="6.5" text-anchor="end" class="tl">15</text>
<text x="45.9" y="684.5" font-size="6.4" text-anchor="middle" class="tl">0</text>
<text x="64.19" y="684.5" font-size="6.4" text-anchor="middle" class="tl">3</text>
<text x="82.47" y="684.5" font-size="6.4" text-anchor="middle" class="tl">6</text>
<text x="100.76" y="684.5" font-size="6.4" text-anchor="middle" class="tl">9</text>
<text x="119.05" y="684.5" font-size="6.4" text-anchor="middle" class="tl">12</text>
<text x="137.34" y="684.5" font-size="6.4" text-anchor="middle" class="tl">15</text>
<text x="155.62" y="684.5" font-size="6.4" text-anchor="middle" class="tl">18</text>
<text x="173.91" y="684.5" font-size="6.4" text-anchor="middle" class="tl">21</text>
<text x="192.2" y="684.5" font-size="6.4" text-anchor="middle" class="tl">24</text>
<path d="M40.9 670.6H44.2M40.9 652.48H44.2M40.9 634.36H44.2M40.9 616.24H44.2M40.9 598.12H44.2M40.9 580H44.2M45.9 672.4V674.8M64.19 672.4V674.8M82.47 672.4V674.8M100.76 672.4V674.8M119.05 672.4V674.8M137.34 672.4V674.8M155.62 672.4V674.8M173.91 672.4V674.8M192.2 672.4V674.8" class="tk"/>
<text x="161" y="694.8" font-size="9.2" text-anchor="end" textLength="78.2" lengthAdjust="spacingAndGlyphs" class="lb">Months from transplant</text>
<text transform="translate(26.65 625) rotate(-90)" font-size="9.9" text-anchor="middle" textLength="75.8" lengthAdjust="spacingAndGlyphs" class="lb">Percent serum GM+ IA</text>
<text x="62.5" y="584.35" font-size="5.2" text-anchor="middle" class="lg">CXCL10, PT</text>
<text x="62.5" y="590.75" font-size="5.2" text-anchor="middle" class="lg">rs1554013</text>
<path d="M50 598.5H65" stroke="#53466e" stroke-width="1.25"/>
<text x="68.2" y="599.9" font-size="5.1" class="lg">AA</text>
<path d="M50 604.5H65" stroke="#3a4e6c" stroke-width="1.25"/>
<text x="68.2" y="606.35" font-size="5.1" class="lg">Aa</text>
<path d="M50 610.5H65" stroke="#a82a48" stroke-width="1.25"/>
<text x="68.2" y="612.8" font-size="5.1" class="lg">aa</text>
<path d="M46.2 670.3 L47.7 666.4 L49.1 661.2 L50.6 656.9 L51.3 653.9 L54.2 654.7 L57.2 653.9 L60.1 652.5 L63 648.8 L66 645.1 L69.6 643.7 L73.3 642.9 L79.1 642.5 L85 641.9 L90.9 641.5 L94.5 640.5 L100 641 L107.3 639.3 L119.5 638 L124.4 636.8 L134.1 635.6 L165.9 634.9 L168.3 633.4 L191.5 633.4" stroke="#53466e" class="cv"/>
<path d="M46.2 670.3 L47.7 666.4 L49.1 661.2 L50.6 656.9 L51.3 653.9 L54.2 653.9 L56.4 652.5 L59.4 648.8 L61.6 645.1 L64.5 640.7 L68.2 636.4 L71.8 634.2 L76.2 632 L82.1 630.5 L87.9 629 L95.2 627.9 L100 627.6 L124.4 626.6 L148.8 625.1 L151.2 624.6 L178 624.1 L180.5 623.4 L191.5 623.4" stroke="#3a4e6c" class="cv"/>
<path d="M46.2 670.3 L47.7 666.4 L49.1 661.2 L50.6 656.9 L51.3 651 L52.8 648.8 L55 645.9 L57.2 639.3 L59.4 635.6 L62.3 631.2 L65.2 628.3 L68.2 623.9 L71.8 621.7 L75.5 620.5 L79.1 620.2 L83.5 618.5 L87.9 617.6 L92.3 616.8 L191.5 616.8" stroke="#a82a48" class="cv"/>
<text x="215" y="574.8" font-size="10.8" font-weight="bold" class="lt">J</text>
<path d="M240 576.4V672.4H392.7" class="ax"/>
<text x="233.9" y="672.7" font-size="6.5" text-anchor="end" class="tl">0</text>
<text x="233.9" y="654.44" font-size="6.5" text-anchor="end" class="tl">3</text>
<text x="233.9" y="636.18" font-size="6.5" text-anchor="end" class="tl">6</text>
<text x="233.9" y="617.92" font-size="6.5" text-anchor="end" class="tl">9</text>
<text x="233.9" y="599.66" font-size="6.5" text-anchor="end" class="tl">12</text>
<text x="233.9" y="581.4" font-size="6.5" text-anchor="end" class="tl">15</text>
<text x="242" y="684.5" font-size="6.4" text-anchor="middle" class="tl">0</text>
<text x="260.44" y="684.5" font-size="6.4" text-anchor="middle" class="tl">3</text>
<text x="278.88" y="684.5" font-size="6.4" text-anchor="middle" class="tl">6</text>
<text x="297.31" y="684.5" font-size="6.4" text-anchor="middle" class="tl">9</text>
<text x="315.75" y="684.5" font-size="6.4" text-anchor="middle" class="tl">12</text>
<text x="334.19" y="684.5" font-size="6.4" text-anchor="middle" class="tl">15</text>
<text x="352.62" y="684.5" font-size="6.4" text-anchor="middle" class="tl">18</text>
<text x="371.06" y="684.5" font-size="6.4" text-anchor="middle" class="tl">21</text>
<text x="389.5" y="684.5" font-size="6.4" text-anchor="middle" class="tl">24</text>
<path d="M236.7 670.5H240M236.7 652.24H240M236.7 633.98H240M236.7 615.72H240M236.7 597.46H240M236.7 579.2H240M242 672.4V674.8M260.44 672.4V674.8M278.88 672.4V674.8M297.31 672.4V674.8M315.75 672.4V674.8M334.19 672.4V674.8M352.62 672.4V674.8M371.06 672.4V674.8M389.5 672.4V674.8" class="tk"/>
<text x="356.6" y="694.8" font-size="9.2" text-anchor="end" textLength="78.2" lengthAdjust="spacingAndGlyphs" class="lb">Months from transplant</text>
<text transform="translate(222.45 624.55) rotate(-90)" font-size="9.9" text-anchor="middle" textLength="75.8" lengthAdjust="spacingAndGlyphs" class="lb">Percent serum GM+ IA</text>
<text x="258.5" y="584.35" font-size="5.2" text-anchor="middle" class="lg">CXCL10, PT</text>
<text x="258.5" y="590.75" font-size="5.2" text-anchor="middle" class="lg">rs3921</text>
<path d="M246 598.5H261" stroke="#53466e" stroke-width="1.25"/>
<text x="264.2" y="599.9" font-size="5.1" class="lg">AA</text>
<path d="M246 604.5H261" stroke="#3a4e6c" stroke-width="1.25"/>
<text x="264.2" y="606.35" font-size="5.1" class="lg">Aa</text>
<path d="M246 610.5H261" stroke="#a82a48" stroke-width="1.25"/>
<text x="264.2" y="612.8" font-size="5.1" class="lg">aa</text>
<path d="M242.2 670.3 L243.7 665.6 L245.1 660.5 L246.6 655 L248.1 653.9 L251.7 653.9 L254.6 653.2 L257.6 652.5 L260.5 648.8 L263.4 645.9 L266.4 642.9 L269.3 641.9 L282.5 641.9 L283.9 640.7 L291.2 640 L295 640.2 L299.9 638.8 L304.8 637.3 L324.3 636.3 L326.7 635.1 L363.3 635.1 L365.7 633.2 L388.9 633.2" stroke="#53466e" class="cv"/>
<path d="M242.2 670.3 L243.7 665.6 L245.1 660.5 L246.6 655 L248.1 653.9 L251.7 653.2 L254.6 651 L257.6 646.6 L260.5 642.2 L264.2 637.8 L267.8 634.9 L272.2 632.7 L278.1 630.5 L283.9 628.3 L291.2 626.8 L295 627.1 L312.1 626.3 L346.2 625.9 L348.7 624.1 L360.9 623.4 L377.9 622.2 L388.9 622.2" stroke="#3a4e6c" class="cv"/>
<path d="M242.2 670.3 L243.7 665.6 L245.1 660.5 L246.6 653.9 L246.6 650.3 L248.1 648.8 L250.2 646.6 L252.4 639.3 L254.6 635.6 L257.6 632.7 L260.5 629 L263.4 626.1 L265.6 623.2 L269.3 621.7 L273.7 620.2 L279.5 618.8 L283.9 618.1 L288.3 616.8 L388.9 616.8" stroke="#a82a48" class="cv"/>
<text x="12.4" y="716.2" font-size="11.23" font-weight="bold" class="lt">K</text>
<path d="M38.1 721.59V822H196.13" class="ax"/>
<text x="31.76" y="821.89" font-size="6.76" text-anchor="end" class="tl">0</text>
<text x="31.76" y="802.87" font-size="6.76" text-anchor="end" class="tl">3</text>
<text x="31.76" y="783.85" font-size="6.76" text-anchor="end" class="tl">6</text>
<text x="31.76" y="764.83" font-size="6.76" text-anchor="end" class="tl">9</text>
<text x="31.76" y="745.81" font-size="6.76" text-anchor="end" class="tl">12</text>
<text x="31.76" y="726.79" font-size="6.76" text-anchor="end" class="tl">15</text>
<text x="39.6" y="834.1" font-size="6.66" text-anchor="middle" class="tl">0</text>
<text x="58.75" y="834.1" font-size="6.66" text-anchor="middle" class="tl">3</text>
<text x="77.9" y="834.1" font-size="6.66" text-anchor="middle" class="tl">6</text>
<text x="97.05" y="834.1" font-size="6.66" text-anchor="middle" class="tl">9</text>
<text x="116.2" y="834.1" font-size="6.66" text-anchor="middle" class="tl">12</text>
<text x="135.35" y="834.1" font-size="6.66" text-anchor="middle" class="tl">15</text>
<text x="154.5" y="834.1" font-size="6.66" text-anchor="middle" class="tl">18</text>
<text x="173.65" y="834.1" font-size="6.66" text-anchor="middle" class="tl">21</text>
<text x="192.8" y="834.1" font-size="6.66" text-anchor="middle" class="tl">24</text>
<path d="M34.67 819.6H38.1M34.67 800.58H38.1M34.67 781.56H38.1M34.67 762.54H38.1M34.67 743.52H38.1M34.67 724.5H38.1M39.6 822V824.5M58.75 822V824.5M77.9 822V824.5M97.05 822V824.5M116.2 822V824.5M135.35 822V824.5M154.5 822V824.5M173.65 822V824.5M192.8 822V824.5" class="tk"/>
<text x="158" y="844.8" font-size="9.57" text-anchor="end" textLength="81.33" lengthAdjust="spacingAndGlyphs" class="lb">Months from transplant</text>
<text transform="translate(19.85 771.75) rotate(-90)" font-size="10.3" text-anchor="middle" textLength="78.83" lengthAdjust="spacingAndGlyphs" class="lb">Percent serum GM+ IA</text>
<text x="57" y="729.75" font-size="5.41" text-anchor="middle" class="lg">CXCL10, PT</text>
<text x="57" y="736.15" font-size="5.41" text-anchor="middle" class="lg">rs4257674</text>
<path d="M44 743.5H59.6" stroke="#53466e" stroke-width="1.25"/>
<text x="62.93" y="745.38" font-size="5.3" class="lg">AA</text>
<path d="M44 750.5H59.6" stroke="#3a4e6c" stroke-width="1.25"/>
<text x="62.93" y="752.08" font-size="5.3" class="lg">Aa</text>
<path d="M44 756.5H59.6" stroke="#a82a48" stroke-width="1.25"/>
<text x="62.93" y="758.79" font-size="5.3" class="lg">aa</text>
<path d="M40.2 819.4 L41.7 815 L43.1 810.6 L44.6 804.8 L46.1 801.9 L49.7 802.1 L54.1 801.1 L57 798.2 L60.7 794.5 L64.4 792.3 L68.7 790.9 L74.6 790.1 L81.9 789.4 L89.2 788.7 L92.2 787.9 L95 787.4 L102.3 786.2 L107.2 785.5 L119.4 784.3 L129.1 783 L134 781.8 L163.3 781.8 L167 780.1 L192.6 780.1" stroke="#53466e" class="cv"/>
<path d="M40.2 819.4 L41.7 815 L43.1 810.6 L44.6 804.8 L46.1 801.9 L49.7 801.9 L52.6 799.7 L55.6 795.3 L58.5 790.9 L62.2 785.7 L65.8 782.1 L70.2 779.9 L76.1 778.4 L81.9 777 L87.8 774.8 L95 774.5 L109.6 774 L124.3 773.3 L146.2 772.6 L149.9 771.6 L160.9 770.9 L177.9 770.9 L180.4 770.1 L192.6 769.6" stroke="#3a4e6c" class="cv"/>
<path d="M40.2 819.4 L41.7 815 L43.1 810.6 L44.6 804.8 L44.6 798.9 L46.1 797.5 L48.2 796 L50.4 788.7 L52.6 783.5 L55.6 779.9 L58.5 777 L61.4 775.5 L63.6 769.6 L67.3 768.9 L73.1 768.2 L77.5 766.7 L81.9 765.5 L87.8 764.3 L192.6 764.3" stroke="#a82a48" class="cv"/>
<text x="212.3" y="716.2" font-size="11.23" font-weight="bold" class="lt">L</text>
<path d="M239.1 722.49V822H394.73" class="ax"/>
<text x="232.76" y="821.89" font-size="6.76" text-anchor="end" class="tl">0</text>
<text x="232.76" y="806.19" font-size="6.76" text-anchor="end" class="tl">5</text>
<text x="232.76" y="790.49" font-size="6.76" text-anchor="end" class="tl">10</text>
<text x="232.76" y="774.79" font-size="6.76" text-anchor="end" class="tl">15</text>
<text x="232.76" y="759.09" font-size="6.76" text-anchor="end" class="tl">20</text>
<text x="232.76" y="743.39" font-size="6.76" text-anchor="end" class="tl">25</text>
<text x="232.76" y="727.69" font-size="6.76" text-anchor="end" class="tl">30</text>
<text x="240.5" y="834.1" font-size="6.66" text-anchor="middle" class="tl">0</text>
<text x="259.36" y="834.1" font-size="6.66" text-anchor="middle" class="tl">3</text>
<text x="278.23" y="834.1" font-size="6.66" text-anchor="middle" class="tl">6</text>
<text x="297.09" y="834.1" font-size="6.66" text-anchor="middle" class="tl">9</text>
<text x="315.95" y="834.1" font-size="6.66" text-anchor="middle" class="tl">12</text>
<text x="334.81" y="834.1" font-size="6.66" text-anchor="middle" class="tl">15</text>
<text x="353.67" y="834.1" font-size="6.66" text-anchor="middle" class="tl">18</text>
<text x="372.54" y="834.1" font-size="6.66" text-anchor="middle" class="tl">21</text>
<text x="391.4" y="834.1" font-size="6.66" text-anchor="middle" class="tl">24</text>
<path d="M235.67 819.6H239.1M235.67 803.9H239.1M235.67 788.2H239.1M235.67 772.5H239.1M235.67 756.8H239.1M235.67 741.1H239.1M235.67 725.4H239.1M240.5 822V824.5M259.36 822V824.5M278.23 822V824.5M297.09 822V824.5M315.95 822V824.5M334.81 822V824.5M353.67 822V824.5M372.54 822V824.5M391.4 822V824.5" class="tk"/>
<text x="359.1" y="844.8" font-size="9.57" text-anchor="end" textLength="81.33" lengthAdjust="spacingAndGlyphs" class="lb">Months from transplant</text>
<text transform="translate(220.85 772.5) rotate(-90)" font-size="10.3" text-anchor="middle" textLength="93.81" lengthAdjust="spacingAndGlyphs" class="lb">Percent proven/probable IA</text>
<text x="256.4" y="729.75" font-size="5.41" text-anchor="middle" class="lg">TLR6, DNR</text>
<text x="256.4" y="736.15" font-size="5.41" text-anchor="middle" class="lg">rs5743810</text>
<path d="M243.4 743.5H259" stroke="#53466e" stroke-width="1.25"/>
<text x="262.33" y="745.38" font-size="5.3" class="lg">AA</text>
<path d="M243.4 750.5H259" stroke="#3a4e6c" stroke-width="1.25"/>
<text x="262.33" y="752.08" font-size="5.3" class="lg">Aa</text>
<path d="M243.4 756.5H259" stroke="#a82a48" stroke-width="1.25"/>
<text x="262.33" y="758.79" font-size="5.3" class="lg">aa</text>
<path d="M240.6 819.4 L242.4 815.8 L245.3 812.1 L248.2 808.4 L251.9 804 L255.6 799.7 L258.5 795.3 L261.4 792.3 L264.4 789.4 L267.3 786.5 L273.1 785.7 L277.5 784.3 L281.9 782.8 L287.8 781.4 L293.6 780.2 L295 780.5 L329.1 780.5 L334 778.8 L356 778 L368.2 777.3 L391.3 776.3" stroke="#53466e" class="cv"/>
<path d="M240.6 819.4 L242.4 815 L244.6 809.9 L246.8 805.5 L249.7 801.9 L252.6 798.2 L255.6 793.8 L258.5 789.4 L261.4 784.3 L265.1 779.9 L268.7 777.7 L273.1 775.5 L277.5 773.3 L281.9 770.4 L286.3 768.9 L292.2 767.4 L295.1 766 L307.2 764.1 L319.4 762.2 L343.8 760.2 L368.2 759 L391.3 758" stroke="#3a4e6c" class="cv"/>
<path d="M240.6 819.4 L242.4 815 L244.6 810.6 L246.8 804.8 L249.7 801.9 L252.6 798.9 L255.6 794.5 L259.2 790.1 L262.9 785.7 L267.3 783.5 L271.7 781.4 L273.9 779.9 L277.5 779.2 L279.7 776.7 L286.3 776.7 L295 776.3 L302.3 775.6 L317 773.9 L343.8 772.4 L387.7 772 L391.3 771.2" stroke="#a82a48" class="cv"/>
<text x="11.7" y="861.6" font-size="11.23" font-weight="bold" class="lt">M</text>
<path d="M38.1 864.19V963.7H195.33" class="ax"/>
<text x="31.76" y="963.89" font-size="6.76" text-anchor="end" class="tl">0</text>
<text x="31.76" y="944.99" font-size="6.76" text-anchor="end" class="tl">3</text>
<text x="31.76" y="926.09" font-size="6.76" text-anchor="end" class="tl">6</text>
<text x="31.76" y="907.19" font-size="6.76" text-anchor="end" class="tl">9</text>
<text x="31.76" y="888.29" font-size="6.76" text-anchor="end" class="tl">12</text>
<text x="31.76" y="869.39" font-size="6.76" text-anchor="end" class="tl">15</text>
<text x="39.7" y="975.8" font-size="6.66" text-anchor="middle" class="tl">0</text>
<text x="58.74" y="975.8" font-size="6.66" text-anchor="middle" class="tl">3</text>
<text x="77.78" y="975.8" font-size="6.66" text-anchor="middle" class="tl">6</text>
<text x="96.81" y="975.8" font-size="6.66" text-anchor="middle" class="tl">9</text>
<text x="115.85" y="975.8" font-size="6.66" text-anchor="middle" class="tl">12</text>
<text x="134.89" y="975.8" font-size="6.66" text-anchor="middle" class="tl">15</text>
<text x="153.93" y="975.8" font-size="6.66" text-anchor="middle" class="tl">18</text>
<text x="172.96" y="975.8" font-size="6.66" text-anchor="middle" class="tl">21</text>
<text x="192" y="975.8" font-size="6.66" text-anchor="middle" class="tl">24</text>
<path d="M34.67 961.6H38.1M34.67 942.7H38.1M34.67 923.8H38.1M34.67 904.9H38.1M34.67 886H38.1M34.67 867.1H38.1M39.7 963.7V966.2M58.74 963.7V966.2M77.78 963.7V966.2M96.81 963.7V966.2M115.85 963.7V966.2M134.89 963.7V966.2M153.93 963.7V966.2M172.96 963.7V966.2M192 963.7V966.2" class="tk"/>
<text x="158.8" y="986.5" font-size="9.57" text-anchor="end" textLength="81.33" lengthAdjust="spacingAndGlyphs" class="lb">Months from transplant</text>
<text transform="translate(19.85 914.05) rotate(-90)" font-size="10.3" text-anchor="middle" textLength="78.83" lengthAdjust="spacingAndGlyphs" class="lb">Percent serum GM+ IA</text>
<text x="55.4" y="871.95" font-size="5.41" text-anchor="middle" class="lg">TLR6, DNR</text>
<text x="55.4" y="878.35" font-size="5.41" text-anchor="middle" class="lg">rs5743810</text>
<path d="M42.4 885.5H58" stroke="#53466e" stroke-width="1.25"/>
<text x="61.33" y="887.58" font-size="5.3" class="lg">AA</text>
<path d="M42.4 892.5H58" stroke="#3a4e6c" stroke-width="1.25"/>
<text x="61.33" y="894.28" font-size="5.3" class="lg">Aa</text>
<path d="M42.4 899.5H58" stroke="#a82a48" stroke-width="1.25"/>
<text x="61.33" y="900.99" font-size="5.3" class="lg">aa</text>
<path d="M40.2 961.6 L41.7 958 L43.1 952.8 L44.6 947.7 L46.1 944.3 L48.2 944 L52.6 943.3 L55.6 941.1 L58.5 937.5 L61.4 934.5 L65.1 928.4 L81.9 928.4 L84.9 926.5 L95 926.2 L126.7 926.2 L129.1 925.2 L165.7 924.8 L168.2 924.3 L192 924.3" stroke="#53466e" class="cv"/>
<path d="M40.2 961.6 L41.7 958 L43.1 952.8 L44.6 947.7 L46.1 944 L48.2 942.6 L51.2 938.9 L53.4 935.3 L55.6 932.3 L58.5 928.7 L61.4 925.7 L64.4 922.1 L68.7 920.6 L73.1 918.4 L77.5 917.3 L81.9 916.2 L87.8 914.8 L93.6 913.7 L103.5 913.3 L106 912.1 L146.2 912.1 L149.9 910.4 L160.9 909.6 L168.2 908.9 L180.4 908.4 L182.8 907.7 L192 907.7" stroke="#3a4e6c" class="cv"/>
<path d="M40.2 961.6 L41.7 958 L43.1 952.8 L44.6 947.7 L46.1 944.5 L48.2 944.8 L51.2 944 L54.1 941.9 L57 938.9 L59.2 935.3 L61.4 928.7 L62.9 925.7 L67.3 925.5 L69.5 924.3 L72.4 921.4 L76.1 920.6 L78.3 917.7 L81.9 917 L97.4 916.5 L123 916.5 L125.5 914 L192 914" stroke="#a82a48" class="cv"/>
<text x="211.1" y="861.6" font-size="11.23" font-weight="bold" class="lt">N</text>
<path d="M238.7 863.39V963.6H398.43" class="ax"/>
<text x="232.36" y="963.59" font-size="6.76" text-anchor="end" class="tl">0</text>
<text x="232.36" y="944.59" font-size="6.76" text-anchor="end" class="tl">3</text>
<text x="232.36" y="925.59" font-size="6.76" text-anchor="end" class="tl">6</text>
<text x="232.36" y="906.59" font-size="6.76" text-anchor="end" class="tl">9</text>
<text x="232.36" y="887.59" font-size="6.76" text-anchor="end" class="tl">12</text>
<text x="232.36" y="868.59" font-size="6.76" text-anchor="end" class="tl">15</text>
<text x="240.5" y="975.7" font-size="6.66" text-anchor="middle" class="tl">0</text>
<text x="259.82" y="975.7" font-size="6.66" text-anchor="middle" class="tl">3</text>
<text x="279.15" y="975.7" font-size="6.66" text-anchor="middle" class="tl">6</text>
<text x="298.48" y="975.7" font-size="6.66" text-anchor="middle" class="tl">9</text>
<text x="317.8" y="975.7" font-size="6.66" text-anchor="middle" class="tl">12</text>
<text x="337.12" y="975.7" font-size="6.66" text-anchor="middle" class="tl">15</text>
<text x="356.45" y="975.7" font-size="6.66" text-anchor="middle" class="tl">18</text>
<text x="375.78" y="975.7" font-size="6.66" text-anchor="middle" class="tl">21</text>
<text x="395.1" y="975.7" font-size="6.66" text-anchor="middle" class="tl">24</text>
<path d="M235.27 961.3H238.7M235.27 942.3H238.7M235.27 923.3H238.7M235.27 904.3H238.7M235.27 885.3H238.7M235.27 866.3H238.7M240.5 963.6V966.1M259.82 963.6V966.1M279.15 963.6V966.1M298.48 963.6V966.1M317.8 963.6V966.1M337.12 963.6V966.1M356.45 963.6V966.1M375.78 963.6V966.1M395.1 963.6V966.1" class="tk"/>
<text x="359.5" y="986.4" font-size="9.57" text-anchor="end" textLength="81.33" lengthAdjust="spacingAndGlyphs" class="lb">Months from transplant</text>
<text transform="translate(220.45 913.5) rotate(-90)" font-size="10.3" text-anchor="middle" textLength="78.83" lengthAdjust="spacingAndGlyphs" class="lb">Percent serum GM+ IA</text>
<text x="258" y="871.95" font-size="5.41" text-anchor="middle" class="lg">S100B, DNR</text>
<text x="258" y="878.35" font-size="5.41" text-anchor="middle" class="lg">rs9722</text>
<path d="M245 885.5H260.6" stroke="#53466e" stroke-width="1.25"/>
<text x="263.93" y="887.58" font-size="5.3" class="lg">AA</text>
<path d="M245 892.5H260.6" stroke="#3a4e6c" stroke-width="1.25"/>
<text x="263.93" y="894.28" font-size="5.3" class="lg">Aa</text>
<path d="M245 899.5H260.6" stroke="#a82a48" stroke-width="1.25"/>
<text x="263.93" y="900.99" font-size="5.3" class="lg">aa</text>
<path d="M241 961.7 L243.6 955.8 L245.1 950.8 L246.6 947.7 L248.7 945.7 L251.2 944.7 L252.7 942.6 L254.8 940.1 L257.3 938.1 L261.4 937.5 L265.8 931.6 L270.2 929.4 L274.6 927.2 L280.5 925.7 L286.3 924.3 L295 923.5 L304.8 922.8 L324.3 922.1 L351.1 921.1 L353.5 920.4 L380.4 919.6 L394.8 919.1" stroke="#53466e" class="cv"/>
<path d="M241 960.9 L243.1 950.8 L244.6 944.2 L246.1 940.6 L247.1 937.6 L248.7 935.5 L250.2 933 L251.7 930.5 L253.2 928.4 L255.3 927.9 L256.8 925.4 L257.8 921.8 L258.5 921.4 L261.4 915.5 L263.6 911.1 L265.1 909.6 L277.5 909.3 L279.7 907.4 L280.5 906.9 L302.3 906.5 L306 905 L319.4 904 L321.8 903.3 L334 902.6 L335.2 901.3 L351.1 900.9 L353.5 900.1 L394.8 900.1" stroke="#3a4e6c" class="cv"/>
<path d="M240.5 961.7 L243.1 961.7 L243.6 944.2 L244.5 944.2 L244.5 926.1 L245.9 926.1 L245.9 908.9 L298.7 908.9 L298.7 890.4 L394.8 890.4" stroke="#a82a48" class="cv"/>
<text x="11.7" y="1000.6" font-size="11.23" font-weight="bold" class="lt">O</text>
<path d="M38.1 1005.39V1105.5H196.83" class="ax"/>
<text x="31.76" y="1105.49" font-size="6.76" text-anchor="end" class="tl">0</text>
<text x="31.76" y="1086.51" font-size="6.76" text-anchor="end" class="tl">3</text>
<text x="31.76" y="1067.53" font-size="6.76" text-anchor="end" class="tl">6</text>
<text x="31.76" y="1048.55" font-size="6.76" text-anchor="end" class="tl">9</text>
<text x="31.76" y="1029.57" font-size="6.76" text-anchor="end" class="tl">12</text>
<text x="31.76" y="1010.59" font-size="6.76" text-anchor="end" class="tl">15</text>
<text x="39.7" y="1117.6" font-size="6.66" text-anchor="middle" class="tl">0</text>
<text x="58.93" y="1117.6" font-size="6.66" text-anchor="middle" class="tl">3</text>
<text x="78.15" y="1117.6" font-size="6.66" text-anchor="middle" class="tl">6</text>
<text x="97.38" y="1117.6" font-size="6.66" text-anchor="middle" class="tl">9</text>
<text x="116.6" y="1117.6" font-size="6.66" text-anchor="middle" class="tl">12</text>
<text x="135.82" y="1117.6" font-size="6.66" text-anchor="middle" class="tl">15</text>
<text x="155.05" y="1117.6" font-size="6.66" text-anchor="middle" class="tl">18</text>
<text x="174.28" y="1117.6" font-size="6.66" text-anchor="middle" class="tl">21</text>
<text x="193.5" y="1117.6" font-size="6.66" text-anchor="middle" class="tl">24</text>
<path d="M34.67 1103.2H38.1M34.67 1084.22H38.1M34.67 1065.24H38.1M34.67 1046.26H38.1M34.67 1027.28H38.1M34.67 1008.3H38.1M39.7 1105.5V1108M58.93 1105.5V1108M78.15 1105.5V1108M97.38 1105.5V1108M116.6 1105.5V1108M135.82 1105.5V1108M155.05 1105.5V1108M174.28 1105.5V1108M193.5 1105.5V1108" class="tk"/>
<text x="158.8" y="1128.3" font-size="9.57" text-anchor="end" textLength="81.33" lengthAdjust="spacingAndGlyphs" class="lb">Months from transplant</text>
<text transform="translate(19.85 1055.45) rotate(-90)" font-size="10.3" text-anchor="middle" textLength="78.83" lengthAdjust="spacingAndGlyphs" class="lb">Percent serum GM+ IA</text>
<text x="55.4" y="1013.35" font-size="5.41" text-anchor="middle" class="lg">IFNG, DNR</text>
<text x="55.4" y="1019.75" font-size="5.41" text-anchor="middle" class="lg">rs2069705</text>
<path d="M42.4 1027.5H58" stroke="#53466e" stroke-width="1.25"/>
<text x="61.33" y="1028.98" font-size="5.3" class="lg">AA</text>
<path d="M42.4 1033.5H58" stroke="#3a4e6c" stroke-width="1.25"/>
<text x="61.33" y="1035.68" font-size="5.3" class="lg">Aa</text>
<path d="M42.4 1040.5H58" stroke="#a82a48" stroke-width="1.25"/>
<text x="61.33" y="1042.39" font-size="5.3" class="lg">aa</text>
<path d="M40.2 1103 L41.7 1097.1 L43.1 1091.2 L45.3 1083.9 L48.2 1081 L51.2 1076.6 L54.1 1072.9 L57 1069.3 L60 1066.4 L62.9 1062 L65.8 1058.3 L70.2 1057.6 L74.6 1055.8 L79 1054.6 L84.9 1053.2 L90.7 1051.7 L95 1051.6 L112.1 1050.9 L148.7 1050.1 L151.1 1049.1 L192.6 1049.1" stroke="#53466e" class="cv"/>
<path d="M40.2 1103 L41.7 1098.6 L43.9 1091.2 L46.1 1089.8 L48.2 1088.3 L51.2 1087.1 L54.1 1086.1 L57 1083.2 L60 1079.5 L62.9 1077.3 L67.3 1075.1 L71.7 1073.7 L76.1 1072.9 L80.5 1071.9 L86.3 1071.5 L95 1071.9 L102.3 1070.4 L119.4 1069.1 L131.6 1067.9 L151.1 1067.2 L168.2 1066.2 L180.4 1065.5 L192.6 1065.5" stroke="#3a4e6c" class="cv"/>
<path d="M40.2 1103 L41.7 1095.6 L43.9 1086.9 L45.3 1080.3 L48.2 1080.3 L49.7 1078.1 L51.9 1074.4 L54.1 1070.7 L57.8 1070.7 L59.2 1068.6 L61.4 1066.6 L65.1 1066.6 L66.5 1063.4 L87.8 1063.4 L88.5 1061.8 L124.3 1061.8 L125.5 1058.9 L148.7 1058.9 L150.6 1056.5 L160.9 1056.5 L162.8 1054 L192.6 1054" stroke="#a82a48" class="cv"/>
<text x="215" y="1001.5" font-size="11.23" font-weight="bold" class="lt">P</text>
<path d="M239 1005.39V1105.6H396.83" class="ax"/>
<text x="232.66" y="1105.89" font-size="6.76" text-anchor="end" class="tl">0</text>
<text x="232.66" y="1090" font-size="6.76" text-anchor="end" class="tl">5</text>
<text x="232.66" y="1074.12" font-size="6.76" text-anchor="end" class="tl">10</text>
<text x="232.66" y="1058.24" font-size="6.76" text-anchor="end" class="tl">15</text>
<text x="232.66" y="1042.35" font-size="6.76" text-anchor="end" class="tl">20</text>
<text x="232.66" y="1026.47" font-size="6.76" text-anchor="end" class="tl">25</text>
<text x="232.66" y="1010.59" font-size="6.76" text-anchor="end" class="tl">30</text>
<text x="240.4" y="1117.7" font-size="6.66" text-anchor="middle" class="tl">0</text>
<text x="259.54" y="1117.7" font-size="6.66" text-anchor="middle" class="tl">3</text>
<text x="278.68" y="1117.7" font-size="6.66" text-anchor="middle" class="tl">6</text>
<text x="297.81" y="1117.7" font-size="6.66" text-anchor="middle" class="tl">9</text>
<text x="316.95" y="1117.7" font-size="6.66" text-anchor="middle" class="tl">12</text>
<text x="336.09" y="1117.7" font-size="6.66" text-anchor="middle" class="tl">15</text>
<text x="355.23" y="1117.7" font-size="6.66" text-anchor="middle" class="tl">18</text>
<text x="374.36" y="1117.7" font-size="6.66" text-anchor="middle" class="tl">21</text>
<text x="393.5" y="1117.7" font-size="6.66" text-anchor="middle" class="tl">24</text>
<path d="M235.57 1103.6H239M235.57 1087.72H239M235.57 1071.83H239M235.57 1055.95H239M235.57 1040.07H239M235.57 1024.18H239M235.57 1008.3H239M240.4 1105.6V1108.1M259.54 1105.6V1108.1M278.68 1105.6V1108.1M297.81 1105.6V1108.1M316.95 1105.6V1108.1M336.09 1105.6V1108.1M355.23 1105.6V1108.1M374.36 1105.6V1108.1M393.5 1105.6V1108.1" class="tk"/>
<text x="359.5" y="1128.4" font-size="9.57" text-anchor="end" textLength="81.33" lengthAdjust="spacingAndGlyphs" class="lb">Months from transplant</text>
<text transform="translate(220.75 1055.95) rotate(-90)" font-size="10.3" text-anchor="middle" textLength="93.81" lengthAdjust="spacingAndGlyphs" class="lb">Percent proven/probable IA</text>
<text x="256.9" y="1013.35" font-size="5.41" text-anchor="middle" class="lg">PLG, DNR</text>
<text x="256.9" y="1019.75" font-size="5.41" text-anchor="middle" class="lg">rs42521225</text>
<path d="M243.9 1027.5H259.5" stroke="#53466e" stroke-width="1.25"/>
<text x="262.83" y="1028.98" font-size="5.3" class="lg">AA</text>
<path d="M243.9 1033.5H259.5" stroke="#3a4e6c" stroke-width="1.25"/>
<text x="262.83" y="1035.68" font-size="5.3" class="lg">Aa</text>
<path d="M243.9 1040.5H259.5" stroke="#a82a48" stroke-width="1.25"/>
<text x="262.83" y="1042.39" font-size="5.3" class="lg">aa</text>
<path d="M240.2 1103.7 L242.4 1097.1 L245.3 1092.7 L248.2 1089.8 L251.2 1086.9 L254.1 1082.5 L257 1076.6 L260 1072.2 L262.9 1068.6 L265.8 1065.6 L270.2 1064.2 L274.6 1062.7 L280.5 1061.2 L286.3 1060.5 L292.2 1059 L298 1058.6 L309.6 1058 L314.5 1057.3 L321.8 1055.6 L343.8 1054.4 L368.2 1053.7 L387.7 1053.2 L391.3 1052.4 L392.6 1052.4" stroke="#53466e" class="cv"/>
<path d="M240.2 1103.7 L242.4 1098.6 L245.3 1094.2 L248.2 1091.2 L251.2 1088.3 L254.1 1084.7 L257 1079.5 L260 1075.1 L262.9 1072.2 L267.3 1069.3 L271.7 1067.1 L276.1 1065.6 L280.5 1064.2 L284.9 1062 L290.7 1059.8 L295 1058 L304.8 1056.3 L319.4 1054.4 L329.1 1053.2 L348.7 1052.4 L365.7 1051.5 L368.2 1050.7 L392.6 1050.7" stroke="#3a4e6c" class="cv"/>
<path d="M240.2 1103.7 L242.4 1095.6 L244.6 1089.8 L246.8 1086.1 L249.7 1081.7 L252.6 1077.3 L254.1 1075.1 L255.6 1068.6 L257.8 1064.9 L260 1059.8 L262.9 1053.9 L265.8 1051.7 L268.7 1050.2 L273.1 1048.1 L276.1 1047.3 L279 1045.1 L281.9 1043.7 L284.9 1041 L295 1040.2 L310.9 1040.2 L313.3 1038.5 L317 1037.3 L349.9 1037.3 L352.3 1035.9 L368.2 1035.9 L370.1 1034.4 L392.6 1034.4" stroke="#a82a48" class="cv"/>
<text x="11.7" y="1142" font-size="11.23" font-weight="bold" class="lt">Q</text>
<path d="M38.1 1147.39V1247.5H195.93" class="ax"/>
<text x="31.76" y="1247.59" font-size="6.76" text-anchor="end" class="tl">0</text>
<text x="31.76" y="1228.59" font-size="6.76" text-anchor="end" class="tl">3</text>
<text x="31.76" y="1209.59" font-size="6.76" text-anchor="end" class="tl">6</text>
<text x="31.76" y="1190.59" font-size="6.76" text-anchor="end" class="tl">9</text>
<text x="31.76" y="1171.59" font-size="6.76" text-anchor="end" class="tl">12</text>
<text x="31.76" y="1152.59" font-size="6.76" text-anchor="end" class="tl">15</text>
<text x="39.7" y="1259.6" font-size="6.66" text-anchor="middle" class="tl">0</text>
<text x="58.81" y="1259.6" font-size="6.66" text-anchor="middle" class="tl">3</text>
<text x="77.92" y="1259.6" font-size="6.66" text-anchor="middle" class="tl">6</text>
<text x="97.04" y="1259.6" font-size="6.66" text-anchor="middle" class="tl">9</text>
<text x="116.15" y="1259.6" font-size="6.66" text-anchor="middle" class="tl">12</text>
<text x="135.26" y="1259.6" font-size="6.66" text-anchor="middle" class="tl">15</text>
<text x="154.38" y="1259.6" font-size="6.66" text-anchor="middle" class="tl">18</text>
<text x="173.49" y="1259.6" font-size="6.66" text-anchor="middle" class="tl">21</text>
<text x="192.6" y="1259.6" font-size="6.66" text-anchor="middle" class="tl">24</text>
<path d="M34.67 1245.3H38.1M34.67 1226.3H38.1M34.67 1207.3H38.1M34.67 1188.3H38.1M34.67 1169.3H38.1M34.67 1150.3H38.1M39.7 1247.5V1250M58.81 1247.5V1250M77.92 1247.5V1250M97.04 1247.5V1250M116.15 1247.5V1250M135.26 1247.5V1250M154.38 1247.5V1250M173.49 1247.5V1250M192.6 1247.5V1250" class="tk"/>
<text x="158.4" y="1270.3" font-size="9.57" text-anchor="end" textLength="81.33" lengthAdjust="spacingAndGlyphs" class="lb">Months from transplant</text>
<text transform="translate(19.85 1197.5) rotate(-90)" font-size="10.3" text-anchor="middle" textLength="78.83" lengthAdjust="spacingAndGlyphs" class="lb">Percent serum GM+ IA</text>
<text x="58" y="1155.35" font-size="5.41" text-anchor="middle" class="lg">TNFR1, DNR</text>
<text x="58" y="1161.75" font-size="5.41" text-anchor="middle" class="lg">rs4149570</text>
<path d="M45 1169.5H60.6" stroke="#53466e" stroke-width="1.25"/>
<text x="63.93" y="1170.98" font-size="5.3" class="lg">AA</text>
<path d="M45 1175.5H60.6" stroke="#3a4e6c" stroke-width="1.25"/>
<text x="63.93" y="1177.68" font-size="5.3" class="lg">Aa</text>
<path d="M45 1182.5H60.6" stroke="#a82a48" stroke-width="1.25"/>
<text x="63.93" y="1184.39" font-size="5.3" class="lg">aa</text>
<path d="M40.2 1245.2 L41.7 1240 L43.1 1234.2 L44.6 1227.8 L46.8 1224.2 L49.7 1222 L52.6 1218.3 L55.6 1215.4 L58.5 1211.7 L61.4 1209.5 L64.4 1207.3 L67.3 1205.9 L71.7 1204.7 L77.5 1203.2 L83.4 1202.5 L89.2 1201.7 L95 1202.1 L109.6 1201.3 L126.7 1199.6 L151.1 1198.4 L163.3 1196.7 L192.6 1196" stroke="#53466e" class="cv"/>
<path d="M40.2 1245.2 L41.7 1240.4 L43.1 1234.7 L44.6 1228.8 L46.8 1225.2 L49.7 1223 L52.6 1219.3 L55.6 1216.4 L58.5 1212.7 L61.4 1210.5 L64.4 1208.3 L67.3 1206.9 L71.7 1205.5 L77.5 1204 L83.4 1203.3 L89.2 1202.5 L95 1202.6 L112.1 1202.1 L126.7 1200.1 L148.7 1199.6 L163.3 1199.1 L168.2 1198.4 L192.6 1198.4" stroke="#3a4e6c" class="cv"/>
<path d="M40.2 1245.2 L42.4 1241.5 L44.6 1239.3 L46.1 1238.6 L49 1237.8 L51.2 1236.4 L53.4 1234.9 L55.6 1233.4 L57.8 1229.8 L60 1224.7 L62.9 1221 L65.8 1218.8 L70.2 1217.3 L76.1 1216.6 L80.5 1216.3 L81.9 1215.1 L86.3 1214.4 L89.2 1211.8 L147.4 1211.8 L149.9 1210.1 L164.5 1209.4 L167 1208.2 L180.4 1208.2 L182.8 1207 L192.6 1207" stroke="#a82a48" class="cv"/>
</svg></div>
<div id="b"><svg width="410" height="1280" viewBox="0 0 410 1280">
<rect x="0" y="0" width="410" height="1.4" fill="#000"/>
<rect x="0" y="0" width="1.05" height="1280" fill="#000"/>
<rect x="408.6" y="0" width="1.4" height="1280" fill="#000"/>
<rect x="0" y="1278.9" width="410" height="1.1" fill="#000"/>
</svg></div>
</body></html>
